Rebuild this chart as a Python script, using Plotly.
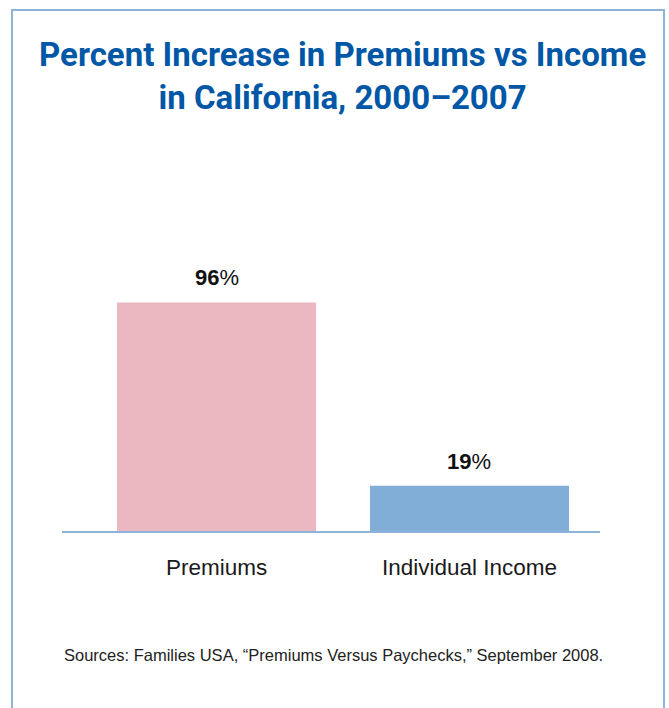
import plotly.graph_objects as go

categories = ["Premiums", "Individual Income"]
values = [96, 19]
labels = ["<b>96</b>%", "<b>19</b>%"]
colors = ["#EBB7C1", "#80AED6"]

title_text = "<b>Percent Increase in Premiums vs Income<br>in California, 2000\u20132007</b>"
source_text = "Sources: Families USA, \u201cPremiums Versus Paychecks,\u201d September 2008."

OFF = 0
W, H = 669, 708
L, R, T, B = 62, 69, 150, 177
pw, ph = W - L - R, H - T - B

def px_x(px):
    return (px - OFF - L) / pw

def px_y(py):
    return (H - B - (py - OFF)) / ph

fig = go.Figure()
fig.add_trace(go.Bar(
    x=categories, y=values, marker=dict(color=colors, line=dict(width=0)),
    width=0.787, hoverinfo="skip",
))

for c, v, t in zip(categories, values, labels):
    fig.add_annotation(x=c, y=v, text=t, showarrow=False, yanchor="bottom",
                       yshift=10, font=dict(family="Liberation Sans", size=22, color="#111111"))

fig.add_annotation(xref="paper", yref="paper", x=px_x(342), y=px_y(76), text=title_text,
                   showarrow=False, xanchor="center", yanchor="middle",
                   font=dict(family="Roboto", size=33, color="#0057A6"))

fig.add_annotation(xref="paper", yref="paper", x=px_x(62), y=px_y(655), text=source_text,
                   showarrow=False, xanchor="left", yanchor="middle",
                   font=dict(family="Liberation Sans", size=16.5, color="#222222"))

fig.add_shape(type="rect", xref="paper", yref="paper",
              x0=px_x(12), x1=px_x(664), y0=px_y(760), y1=px_y(10),
              line=dict(color="#8DB3DA", width=2), fillcolor="rgba(0,0,0,0)", layer="below")

fig.update_layout(
    width=W, height=H,
    margin=dict(l=L, r=R, t=T, b=B),
    paper_bgcolor="white", plot_bgcolor="white",
    showlegend=False,
    xaxis=dict(range=[-0.611, 1.516], showline=True, linecolor="#8DB3DA", linewidth=1.5,
               ticks="", showgrid=False, zeroline=False, ticklabelstandoff=15,
               tickfont=dict(family="Liberation Sans", size=22.5, color="#1a1a1a")),
    yaxis=dict(range=[0, 160], visible=False, showgrid=False, zeroline=False),
)

fig.write_html("out.html", config={"displayModeBar": False},
               post_script="document.body.style.margin='0';document.body.style.overflow='hidden';")
